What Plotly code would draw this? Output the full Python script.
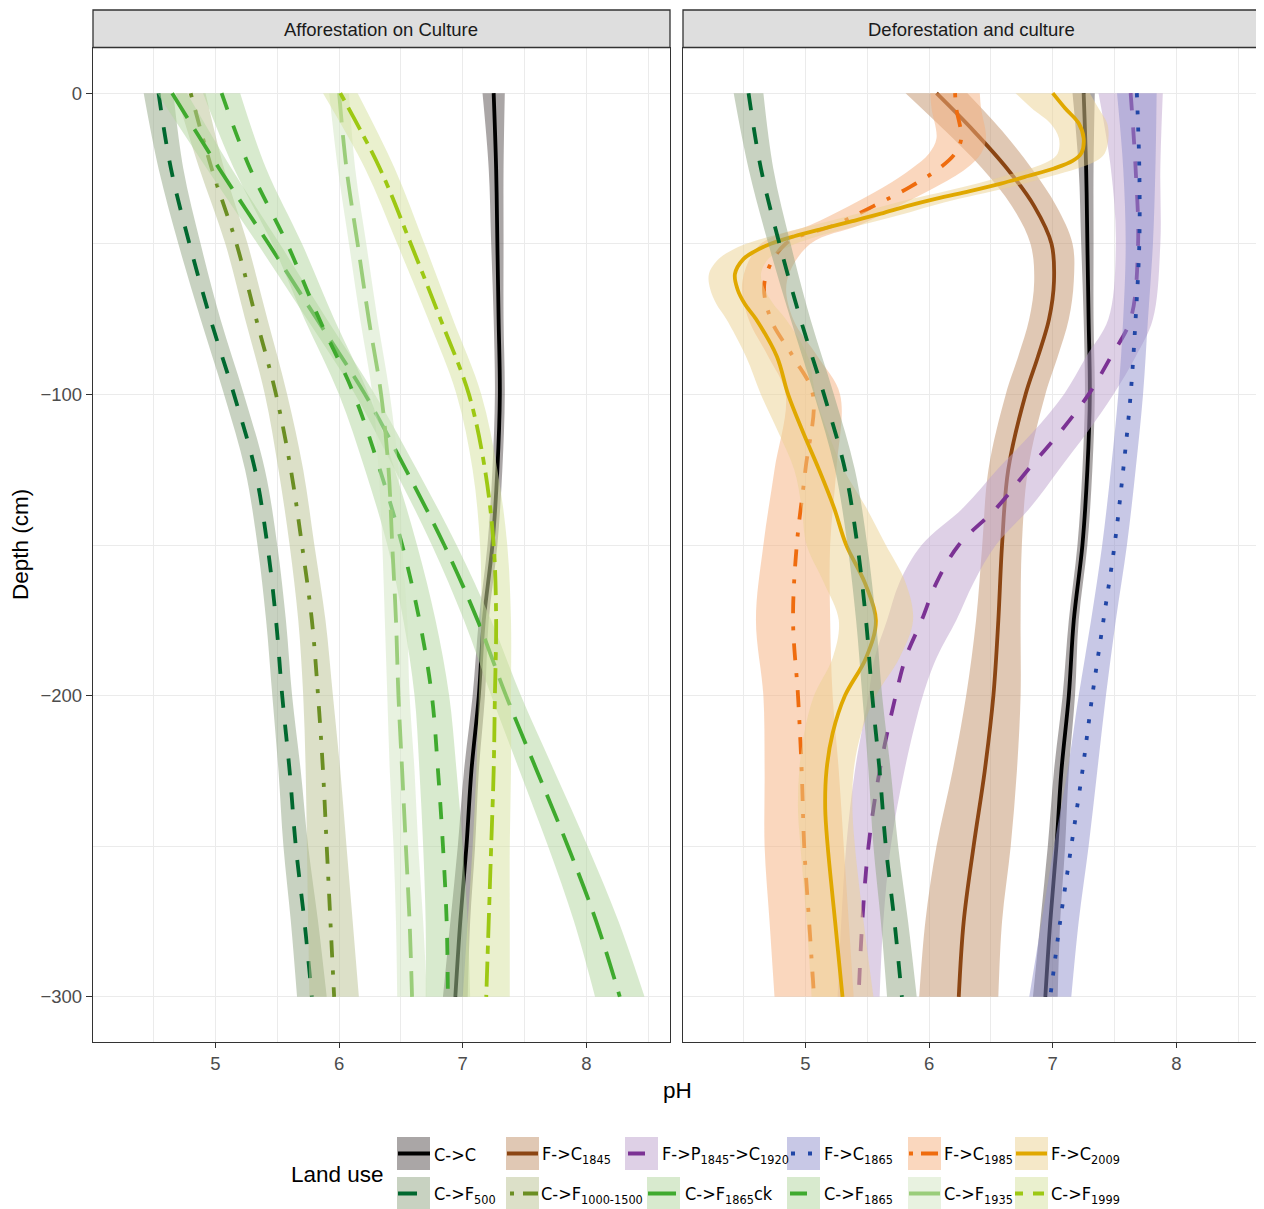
import plotly.graph_objects as go

# page has an 8px body margin: figure is drawn 8px in from the window corner
OX, OY = 8, 8
W, H = 1256, 1201

# ---------------- data ----------------
DEPTH = [0, -25, -50, -75, -100, -125, -150, -175, -200, -225, -250, -275, -300]

cc_ph = [7.25, 7.27, 7.28, 7.29, 7.30, 7.28, 7.24, 7.17, 7.13, 7.07, 7.03, 6.98, 6.94]
cc_hw = [0.09, 0.06, 0.05, 0.04, 0.04, 0.04, 0.04, 0.04, 0.05, 0.06, 0.07, 0.08, 0.10]

f500_ph = [4.54, 4.64, 4.79, 4.96, 5.15, 5.32, 5.42, 5.49, 5.54, 5.60, 5.65, 5.72, 5.78]
f500_hw = [0.12, 0.10, 0.09, 0.08, 0.08, 0.08, 0.08, 0.08, 0.08, 0.09, 0.10, 0.11, 0.12]

f1000_ph = [4.80, 4.97, 5.17, 5.33, 5.49, 5.61, 5.70, 5.78, 5.83, 5.87, 5.90, 5.93, 5.96]
f1000_hw = [0.12, 0.10, 0.09, 0.09, 0.09, 0.10, 0.10, 0.11, 0.12, 0.14, 0.16, 0.18, 0.20]

f1865ck_ph = [4.65, 5.03, 5.43, 5.82, 6.21, 6.54, 6.85, 7.12, 7.35, 7.60, 7.85, 8.08, 8.27]
f1865ck_hw = [0.12, 0.10, 0.09, 0.08, 0.08, 0.09, 0.10, 0.11, 0.12, 0.14, 0.16, 0.18, 0.20]

f1865_ph = [5.05, 5.28, 5.58, 5.84, 6.12, 6.33, 6.51, 6.65, 6.75, 6.80, 6.84, 6.87, 6.88]
f1865_hw = [0.15, 0.13, 0.12, 0.12, 0.12, 0.12, 0.12, 0.13, 0.14, 0.15, 0.16, 0.17, 0.18]

f1935_ph = [6.00, 6.06, 6.15, 6.24, 6.34, 6.40, 6.43, 6.46, 6.48, 6.51, 6.54, 6.57, 6.59]
f1935_hw = [0.08, 0.07, 0.07, 0.07, 0.07, 0.08, 0.08, 0.09, 0.09, 0.10, 0.10, 0.11, 0.12]

f1999_ph = [6.01, 6.33, 6.58, 6.82, 7.05, 7.18, 7.25, 7.27, 7.26, 7.25, 7.23, 7.21, 7.19]
f1999_hw = [0.14, 0.12, 0.11, 0.10, 0.10, 0.10, 0.11, 0.12, 0.13, 0.14, 0.15, 0.17, 0.19]

c1845_depth = [0, -12.5, -25, -37.5, -50, -62.5, -75, -87.5, -100, -125, -150, -175, -200, -225, -250, -275, -300]
c1845_ph = [6.06, 6.36, 6.63, 6.85, 6.99, 7.01, 6.97, 6.88, 6.78, 6.64, 6.59, 6.56, 6.52, 6.45, 6.36, 6.28, 6.24]
c1845_hw = [0.25, 0.23, 0.20, 0.18, 0.17, 0.16, 0.16, 0.16, 0.16, 0.16, 0.16, 0.18, 0.22, 0.26, 0.30, 0.31, 0.32]

p1920_depth = [0, -25, -50, -75, -87.5, -100, -112.5, -125, -137.5, -150, -162.5, -175, -187.5, -200, -225, -250, -275, -300]
p1920_ph = [7.63, 7.67, 7.69, 7.63, 7.47, 7.29, 7.06, 6.80, 6.55, 6.24, 6.06, 5.94, 5.81, 5.73, 5.60, 5.51, 5.46, 5.43]
p1920_hw = [0.26, 0.20, 0.18, 0.18, 0.20, 0.20, 0.22, 0.25, 0.27, 0.30, 0.30, 0.28, 0.25, 0.22, 0.20, 0.18, 0.17, 0.17]

c1865_ph = [7.68, 7.70, 7.70, 7.67, 7.63, 7.57, 7.50, 7.41, 7.32, 7.24, 7.15, 7.06, 6.98]
c1865_hw = [0.16, 0.13, 0.11, 0.10, 0.10, 0.10, 0.10, 0.10, 0.11, 0.12, 0.14, 0.15, 0.17]

c1985_depth = [0, -5, -15, -20, -25, -31.25, -37.5, -43.75, -50, -62.5, -75, -87.5, -100, -125, -150, -175, -200, -225, -250, -275, -300]
c1985_ph = [6.21, 6.22, 6.26, 6.21, 6.08, 5.84, 5.55, 5.24, 4.84, 4.67, 4.72, 4.90, 5.06, 5.00, 4.93, 4.90, 4.94, 4.97, 4.99, 5.03, 5.07]
c1985_hw = [0.20, 0.20, 0.20, 0.21, 0.22, 0.21, 0.20, 0.20, 0.20, 0.18, 0.18, 0.20, 0.22, 0.25, 0.27, 0.30, 0.28, 0.30, 0.32, 0.32, 0.32]

c2009_depth = [0, -5, -10, -15, -20, -22.5, -25, -27.5, -30, -32.5, -35, -37.5, -40, -42.5, -45, -47.5,
               -50, -52.5, -55, -60, -65, -70, -75, -87.5, -100, -112.5, -125, -137.5, -150, -162.5,
               -175, -187.5, -200, -212.5, -225, -237.5, -250, -275, -300]
c2009_ph = [7.00, 7.10, 7.21, 7.25, 7.23, 7.16, 7.01, 6.80, 6.58, 6.33, 6.06, 5.82, 5.61, 5.38, 5.14, 4.91,
            4.72, 4.59, 4.50, 4.43, 4.45, 4.51, 4.60, 4.77, 4.86, 4.98, 5.11, 5.23, 5.33, 5.48,
            5.57, 5.49, 5.32, 5.22, 5.17, 5.16, 5.18, 5.24, 5.30]
c2009_hw = [0.30, 0.27, 0.23, 0.20, 0.19, 0.19, 0.19, 0.19, 0.19, 0.19, 0.19, 0.19, 0.19, 0.19, 0.19, 0.19,
            0.20, 0.20, 0.20, 0.21, 0.22, 0.23, 0.24, 0.25, 0.22, 0.20, 0.20, 0.26, 0.32, 0.33,
            0.30, 0.27, 0.25, 0.23, 0.22, 0.22, 0.22, 0.23, 0.25]

PANEL_TITLES = ["Afforestation on Culture", "Deforestation and culture"]
X_TICKS = [5, 6, 7, 8]
Y_TICKS = [0, -100, -200, -300]

# ---------------- styles ----------------
DASH = {
    "solid": "solid",
    "dashed": "17px,17px",
    "dotted": "4px,13px",
    "dotdash": "4px,13px,17px,13px",
    "longdash": "29px,13px",
    "twodash": "8px,8px,25px,8px",
}

series = {
    "C->C":      dict(d=DEPTH, ph=cc_ph, hw=cc_hw, col="#000000", fill="rgba(85,77,77,0.5)", dash="solid"),
    "F->C1845":  dict(d=c1845_depth, ph=c1845_ph, hw=c1845_hw, col="#8B4513", fill="rgba(193,145,105,0.5)", dash="solid"),
    "F->P1920":  dict(d=p1920_depth, ph=p1920_ph, hw=p1920_hw, col="#7B3294", fill="rgba(189,161,205,0.5)", dash="dashed"),
    "F->C1865":  dict(d=DEPTH, ph=c1865_ph, hw=c1865_hw, col="#2146A6", fill="rgba(145,145,205,0.5)", dash="dotted"),
    "F->C1985":  dict(d=c1985_depth, ph=c1985_ph, hw=c1985_hw, col="#EF6C0E", fill="rgba(245,175,125,0.5)", dash="dotdash"),
    "F->C2009":  dict(d=c2009_depth, ph=c2009_ph, hw=c2009_hw, col="#E0A800", fill="rgba(235,209,145,0.5)", dash="solid"),
    "C->F500":   dict(d=DEPTH, ph=f500_ph, hw=f500_hw, col="#00682F", fill="rgba(145,165,131,0.5)", dash="dashed"),
    "C->F1000":  dict(d=DEPTH, ph=f1000_ph, hw=f1000_hw, col="#6B8E23", fill="rgba(185,193,145,0.5)", dash="dotdash"),
    "C->F1865ck": dict(d=DEPTH, ph=f1865ck_ph, hw=f1865ck_hw, col="#3FAA2E", fill="rgba(177,213,157,0.5)", dash="longdash"),
    "C->F1865":  dict(d=DEPTH, ph=f1865_ph, hw=f1865_hw, col="#3FAA2E", fill="rgba(177,213,157,0.5)", dash="dashed"),
    "C->F1935":  dict(d=DEPTH, ph=f1935_ph, hw=f1935_hw, col="#9ACD7A", fill="rgba(209,229,193,0.5)", dash="longdash"),
    "C->F1999":  dict(d=DEPTH, ph=f1999_ph, hw=f1999_hw, col="#9DC813", fill="rgba(213,225,157,0.5)", dash="twodash"),
}

panels = [
    ("x", "y", ["C->C", "C->F500", "C->F1000", "C->F1865ck", "C->F1865", "C->F1935", "C->F1999"]),
    ("x2", "y2", ["C->C", "F->C1845", "F->P1920", "F->C1865", "F->C1985", "F->C2009", "C->F500"]),
]

LW = 3.8
fig = go.Figure()
for xa, ya, names in panels:
    for n in names:
        s = series[n]
        lo = [p - h for p, h in zip(s["ph"], s["hw"])]
        hi = [p + h for p, h in zip(s["ph"], s["hw"])]
        fig.add_trace(go.Scatter(x=lo, y=s["d"], xaxis=xa, yaxis=ya, mode="lines",
                                 line=dict(width=0, shape="spline"), showlegend=False, hoverinfo="skip"))
        fig.add_trace(go.Scatter(x=hi, y=s["d"], xaxis=xa, yaxis=ya, mode="lines",
                                 line=dict(width=0, shape="spline"), fill="tonextx", fillcolor=s["fill"],
                                 showlegend=False, hoverinfo="skip"))
        fig.add_trace(go.Scatter(x=s["ph"], y=s["d"], xaxis=xa, yaxis=ya, mode="lines",
                                 line=dict(width=LW, color=s["col"], dash=DASH[s["dash"]], shape="spline"),
                                 showlegend=False, hoverinfo="skip"))


def px(x):
    return (x - OX) / W


def py(y):
    return 1 - (y - OY) / H


FONT = "Liberation Sans, Arial, sans-serif"
LEG_FONT = "DejaVu Sans Condensed, Liberation Sans Narrow, Arial Narrow, sans-serif"
GRID = "#ebebeb"
BORDER = "#333333"

common_x = dict(range=[4.01, 8.676], tickvals=X_TICKS, showgrid=True, gridcolor=GRID, gridwidth=1.4,
                minor=dict(dtick=0.5, tick0=0, showgrid=True, gridcolor=GRID, gridwidth=0.7),
                showline=True, mirror=True, linecolor=BORDER, linewidth=1.3, ticks="outside",
                ticklen=5, tickwidth=1.3, tickcolor=BORDER, zeroline=False,
                tickfont=dict(family=FONT, size=18.5, color="#4d4d4d"))
common_y = dict(range=[-315, 15], tickvals=Y_TICKS, showgrid=True, gridcolor=GRID, gridwidth=1.4,
                minor=dict(dtick=50, tick0=0, showgrid=True, gridcolor=GRID, gridwidth=0.7),
                showline=True, mirror=True, linecolor=BORDER, linewidth=1.3, zeroline=False,
                domain=[py(1042), py(48)])

fig.update_layout(
    width=W, height=H, margin=dict(l=0, r=0, t=0, b=0),
    paper_bgcolor="white", plot_bgcolor="white", showlegend=False,
    xaxis=dict(domain=[px(93), px(670)], anchor="y", **common_x),
    xaxis2=dict(domain=[px(683), px(1260)], anchor="y2", **common_x),
    yaxis=dict(anchor="x", ticks="outside", ticklen=6, tickwidth=1.3, tickcolor=BORDER,
               tickfont=dict(family=FONT, size=18.5, color="#4d4d4d"), **common_y),
    yaxis2=dict(anchor="x2", matches="y", showticklabels=False, ticks="", **common_y),
)

shapes = []
annotations = []

# facet strips
for (x0, x1), title in zip([(93, 670), (683, 1260)], PANEL_TITLES):
    shapes.append(dict(type="rect", xref="paper", yref="paper", x0=px(x0), x1=px(x1), y0=py(47.5), y1=py(10),
                       fillcolor="#dedede", line=dict(color=BORDER, width=1.3), layer="above"))
    annotations.append(dict(text=title, xref="paper", yref="paper", x=px((x0 + x1) / 2), y=py(29),
                            xanchor="center", yanchor="middle", showarrow=False,
                            font=dict(family=FONT, size=18.5, color="#1a1a1a")))

# axis titles
annotations.append(dict(text="Depth (cm)", xref="paper", yref="paper", x=px(21), y=py(545), textangle=-90,
                        xanchor="center", yanchor="middle", showarrow=False,
                        font=dict(family=FONT, size=22.5, color="black")))
annotations.append(dict(text="pH", xref="paper", yref="paper", x=px(677), y=py(1090),
                        xanchor="center", yanchor="middle", showarrow=False,
                        font=dict(family=FONT, size=22.5, color="black")))

# legend (manual, two rows)
annotations.append(dict(text="Land use", xref="paper", yref="paper", x=px(289), y=py(1174),
                        xanchor="left", yanchor="middle", showarrow=False,
                        font=dict(family=FONT, size=22.5, color="black")))

legend_rows = [
    (1153.5, [
        ("C->C", 397, 432, "C->C", [(398, 430)]),
        ("F->C1845", 506, 540, "F->C<sub>1845</sub>", [(507, 538)]),
        ("F->P1920", 625, 660, "F->P<sub>1845</sub>->C<sub>1920</sub>", [(628, 645)]),
        ("F->C1865", 787, 822, "F->C<sub>1865</sub>", [(791, 795), (808, 812)]),
        ("F->C1985", 908, 942, "F->C<sub>1985</sub>", [(909, 913), (921, 938)]),
        ("F->C2009", 1015, 1049, "F->C<sub>2009</sub>", [(1016, 1047)]),
    ]),
    (1193.5, [
        ("C->F500", 397, 432, "C->F<sub>500</sub>", [(398, 417)]),
        ("C->F1000", 506, 539, "C->F<sub>1000-1500</sub>", [(510, 514), (523, 538)]),
        ("C->F1865ck", 647, 683, "C->F<sub>1865</sub>ck", [(648, 676)]),
        ("C->F1865", 787, 822, "C->F<sub>1865</sub>", [(790, 807)]),
        ("C->F1935", 908, 942, "C->F<sub>1935</sub>", [(909, 940)]),
        ("C->F1999", 1015, 1049, "C->F<sub>1999</sub>", [(1015, 1023), (1033, 1044)]),
    ]),
]
KEY = 33
for yc, entries in legend_rows:
    for name, kx, lx, label, segs in entries:
        s = series[name]
        shapes.append(dict(type="rect", xref="paper", yref="paper", x0=px(kx), x1=px(kx + KEY),
                           y0=py(yc + KEY / 2), y1=py(yc - KEY / 2), fillcolor=s["fill"], line=dict(width=0)))
        for a, b in segs:
            shapes.append(dict(type="line", xref="paper", yref="paper", x0=px(a), x1=px(b), y0=py(yc), y1=py(yc),
                               line=dict(color=s["col"], width=4)))
        annotations.append(dict(text=label, xref="paper", yref="paper", x=px(lx), y=py(yc + 1),
                                xanchor="left", yanchor="middle", showarrow=False,
                                font=dict(family=LEG_FONT, size=18, color="black")))

fig.update_layout(shapes=shapes, annotations=annotations)
fig.write_html("out.html")
